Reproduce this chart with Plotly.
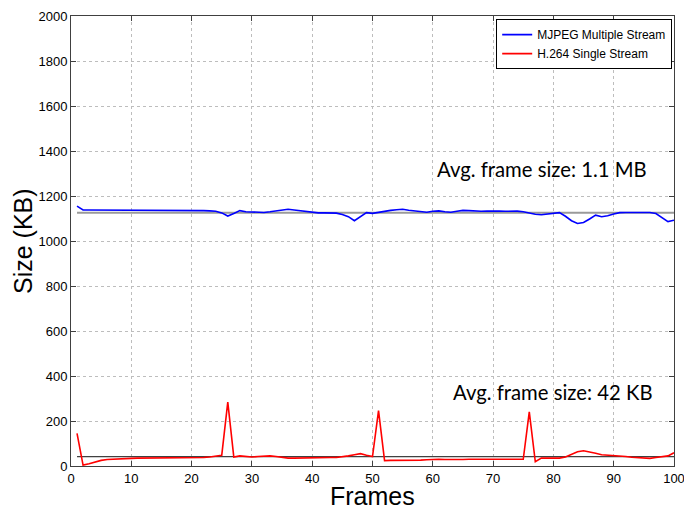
import plotly.graph_objects as go

frames = list(range(1, 101))

# Per-frame size (KB) of the MJPEG multi-stream capture
mjpeg_kb = [
    1155, 1138, 1138, 1138, 1138, 1138, 1137, 1137, 1136, 1136,
    1136, 1136, 1136, 1136, 1136, 1136, 1136, 1136, 1136, 1136,
    1135, 1135, 1134, 1132, 1125, 1111, 1122, 1135, 1130, 1128,
    1126, 1127, 1130, 1134, 1138, 1141, 1138, 1134, 1130, 1127,
    1125, 1125, 1126, 1124, 1118, 1108, 1090, 1110, 1126, 1123,
    1128, 1132, 1136, 1139, 1141, 1137, 1133, 1130, 1128, 1132,
    1134, 1130, 1128, 1132, 1136, 1135, 1133, 1132, 1133, 1134,
    1133, 1132, 1133, 1133, 1130, 1124, 1119, 1117, 1120, 1124,
    1126, 1110, 1090, 1078, 1082, 1098, 1115, 1108, 1112, 1120,
    1126, 1127, 1127, 1128, 1127, 1127, 1122, 1105, 1086, 1092,
]

# Per-frame size (KB) of the H.264 single-stream capture
h264_kb = [
    145, 4, 10, 18, 25, 29, 31, 33, 34, 34,
    35, 35, 35, 35, 35, 35, 35, 36, 36, 38,
    38, 38, 40, 43, 48, 284, 40, 45, 43, 40,
    42, 45, 45, 42, 38, 35, 35, 36, 37, 38,
    38, 38, 38, 38, 40, 45, 50, 55, 48, 42,
    246, 24, 25, 25, 24, 24, 25, 26, 28, 30,
    30, 29, 28, 28, 29, 30, 30, 29, 28, 28,
    27, 27, 27, 28, 30, 241, 19, 35, 36, 34,
    35, 40, 52, 63, 68, 64, 57, 50, 48, 49,
    46, 42, 39, 38, 36, 34, 38, 42, 45, 59,
]

mjpeg_avg = 1126
h264_avg = 42

series_names = ["MJPEG Multiple Stream", "H.264 Single Stream"]
avg_labels = ["Avg. frame size: 1.1 MB", "Avg. frame size: 42 KB"]
x_title = "Frames"
y_title = "Size (KB)"

x_ticks = [0, 10, 20, 30, 40, 50, 60, 70, 80, 90, 100]
y_ticks = [0, 200, 400, 600, 800, 1000, 1200, 1400, 1600, 1800, 2000]

fig = go.Figure()

# average reference lines
fig.add_trace(go.Scatter(
    x=[frames[0], frames[-1]], y=[mjpeg_avg, mjpeg_avg], mode="lines",
    line=dict(color="#9a9a9a", width=2), showlegend=False, hoverinfo="skip"))
fig.add_trace(go.Scatter(
    x=[frames[0], frames[-1]], y=[h264_avg, h264_avg], mode="lines",
    line=dict(color="#404040", width=1.2), showlegend=False, hoverinfo="skip"))

fig.add_trace(go.Scatter(
    x=frames, y=mjpeg_kb, mode="lines", name=series_names[0],
    line=dict(color="#0000ff", width=1.6)))
fig.add_trace(go.Scatter(
    x=frames, y=h264_kb, mode="lines", name=series_names[1],
    line=dict(color="#ff0000", width=1.6)))

fig.add_annotation(x=60.4, y=1322, text=avg_labels[0], showarrow=False,
                   xanchor="left", yanchor="middle",
                   font=dict(family="Lato", size=20.3, color="#000000"))
fig.add_annotation(x=63.0, y=327, text=avg_labels[1], showarrow=False,
                   xanchor="left", yanchor="middle",
                   font=dict(family="Lato", size=20.3, color="#000000"))

title_font = dict(family="Liberation Sans, Arial", size=25, color="#000000")

# axis titles placed just outside the plotting box
fig.add_annotation(xref="paper", yref="paper", x=0.5, y=0, yanchor="top",
                   yshift=-15, borderpad=0, text=x_title, showarrow=False,
                   font=title_font)
fig.add_annotation(xref="paper", yref="paper", x=0, y=0.5, xanchor="center",
                   xshift=-48, textangle=-90, text=y_title, showarrow=False,
                   font=title_font)

axis_common = dict(
    showline=True, linecolor="#404040", linewidth=1, mirror="ticks",
    ticks="inside", ticklen=5, tickcolor="#404040",
    showgrid=True, gridcolor="#bdbdbd", griddash="dot", gridwidth=1,
    zeroline=False, automargin=False, ticklabeloverflow="allow",
    tickfont=dict(family="Liberation Sans, Arial", size=13, color="#000000"),
)

fig.update_xaxes(range=[0, 100], tickvals=x_ticks, **axis_common)
fig.update_yaxes(range=[0, 2000], tickvals=y_ticks, **axis_common)

fig.update_layout(
    width=684, height=509,
    margin=dict(l=71, r=10, t=16, b=43),
    paper_bgcolor="#ffffff", plot_bgcolor="#ffffff",
    legend=dict(x=0.997, y=0.993, xanchor="right", yanchor="top",
                bgcolor="#ffffff", bordercolor="#000000", borderwidth=1,
                font=dict(family="Liberation Sans, Arial", size=12, color="#000000"),
                tracegroupgap=0, itemwidth=30),
)

fig.write_html("out.html")
